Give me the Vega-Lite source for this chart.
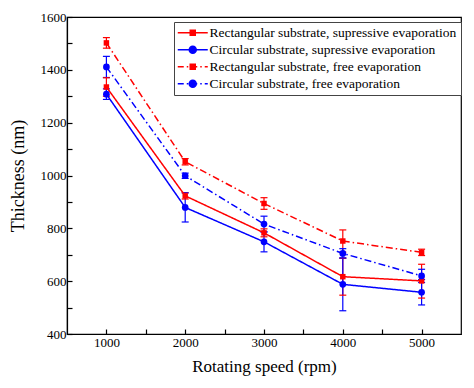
{
  "$schema": "https://vega.github.io/schema/vega-lite/v6.json",
  "width": 394,
  "height": 317,
  "autosize": {"type": "none"},
  "padding": {"left": 67, "top": 17, "right": 13, "bottom": 54},
  "background": "white",
  "config": {
    "font": "Times New Roman",
    "view": {"stroke": "black", "strokeWidth": 1.2},
    "axis": {
      "domainColor": "black", "domainWidth": 1.2, "tickColor": "black", "tickWidth": 1.2,
      "labelColor": "black", "titleColor": "black", "grid": false,
      "labelFont": "Times New Roman", "titleFont": "Times New Roman",
      "labelFontSize": 13, "titleFontSize": 17, "titleFontWeight": "normal", "tickSize": -5
    },
    "legend": {"labelFont": "Times New Roman"}
  },
  "data": {"values": [
    {"series": "Rectangular substrate, supressive evaporation", "speed": 1000, "thickness": 1335, "lo": 1300, "hi": 1370},
    {"series": "Rectangular substrate, supressive evaporation", "speed": 2000, "thickness": 923, "lo": 911, "hi": 935},
    {"series": "Rectangular substrate, supressive evaporation", "speed": 3000, "thickness": 783, "lo": 768, "hi": 798},
    {"series": "Rectangular substrate, supressive evaporation", "speed": 4000, "thickness": 617, "lo": 547, "hi": 687},
    {"series": "Rectangular substrate, supressive evaporation", "speed": 5000, "thickness": 601, "lo": 536, "hi": 664},
    {"series": "Circular substrate, supressive evaporation", "speed": 1000, "thickness": 1308, "lo": 1288, "hi": 1328},
    {"series": "Circular substrate, supressive evaporation", "speed": 2000, "thickness": 879, "lo": 824, "hi": 934},
    {"series": "Circular substrate, supressive evaporation", "speed": 3000, "thickness": 749, "lo": 711, "hi": 787},
    {"series": "Circular substrate, supressive evaporation", "speed": 4000, "thickness": 588, "lo": 488, "hi": 688},
    {"series": "Circular substrate, supressive evaporation", "speed": 5000, "thickness": 558, "lo": 510, "hi": 606},
    {"series": "Rectangular substrate, free evaporation", "speed": 1000, "thickness": 1502, "lo": 1482, "hi": 1522},
    {"series": "Rectangular substrate, free evaporation", "speed": 2000, "thickness": 1052, "lo": 1040, "hi": 1064},
    {"series": "Rectangular substrate, free evaporation", "speed": 3000, "thickness": 894, "lo": 872, "hi": 916},
    {"series": "Rectangular substrate, free evaporation", "speed": 4000, "thickness": 752, "lo": 710, "hi": 794},
    {"series": "Rectangular substrate, free evaporation", "speed": 5000, "thickness": 709, "lo": 697, "hi": 721},
    {"series": "Circular substrate, free evaporation", "speed": 1000, "thickness": 1411, "lo": 1371, "hi": 1451},
    {"series": "Circular substrate, free evaporation", "speed": 2000, "thickness": 999, "lo": 989, "hi": 1009},
    {"series": "Circular substrate, free evaporation", "speed": 3000, "thickness": 816, "lo": 786, "hi": 846},
    {"series": "Circular substrate, free evaporation", "speed": 4000, "thickness": 705, "lo": 687, "hi": 723},
    {"series": "Circular substrate, free evaporation", "speed": 5000, "thickness": 620, "lo": 595, "hi": 645}
  ]},
  "encoding": {
    "x": {
      "field": "speed", "type": "quantitative",
      "scale": {"domain": [500, 5500], "nice": false, "zero": false},
      "axis": {
        "values": [1000, 1500, 2000, 2500, 3000, 3500, 4000, 4500, 5000],
        "labelExpr": "datum.value % 1000 == 0 ? '' + datum.value : ''",
        "title": "Rotating speed (rpm)", "labelPadding": 7, "titlePadding": 9
      }
    },
    "y": {
      "field": "thickness", "type": "quantitative",
      "scale": {"domain": [400, 1600], "nice": false, "zero": false},
      "axis": {
        "values": [400, 500, 600, 700, 800, 900, 1000, 1100, 1200, 1300, 1400, 1500, 1600],
        "labelExpr": "datum.value % 200 == 0 ? '' + datum.value : ''",
        "title": "Thickness (nm)", "labelPadding": 6, "titlePadding": 13, "titleFontSize": 18
      }
    }
  },
  "layer": [
    {
      "mark": {"type": "rule", "strokeWidth": 1.2},
      "encoding": {
        "y": {"field": "lo", "type": "quantitative"},
        "y2": {"field": "hi"},
        "stroke": {"field": "series", "type": "nominal",
          "scale": {"range": ["#0000ff", "#0000ff", "#ff0000", "#ff0000"]},
          "legend": null}
      }
    },
    {
      "mark": {"type": "tick", "orient": "horizontal", "size": 7, "thickness": 1.2, "opacity": 1},
      "encoding": {
        "y": {"field": "lo", "type": "quantitative"},
        "fill": {"field": "series", "type": "nominal",
          "scale": {"range": ["#0000ff", "#0000ff", "#ff0000", "#ff0000"]},
          "legend": null}
      }
    },
    {
      "mark": {"type": "tick", "orient": "horizontal", "size": 7, "thickness": 1.2, "opacity": 1},
      "encoding": {
        "y": {"field": "hi", "type": "quantitative"},
        "fill": {"field": "series", "type": "nominal", "legend": null}
      }
    },
    {
      "mark": {"type": "line", "strokeWidth": 1.5},
      "encoding": {
        "stroke": {"field": "series", "type": "nominal", "legend": null},
        "strokeDash": {"field": "series", "type": "nominal",
          "scale": {"range": [[7, 3, 1.5, 3], [1, 0], [7, 3, 1.5, 3], [1, 0]]},
          "legend": null}
      }
    },
    {
      "transform": [{"filter": "indexof(datum.series, 'Rectangular') == 0"}],
      "mark": {"type": "point", "shape": "square", "filled": true, "size": 30, "opacity": 1},
      "encoding": {
        "fill": {"field": "series", "type": "nominal", "legend": null}
      }
    },
    {
      "transform": [{"filter": "indexof(datum.series, 'Circular') == 0"}],
      "mark": {"type": "point", "shape": "circle", "filled": true, "size": 45, "opacity": 1},
      "encoding": {
        "fill": {"field": "series", "type": "nominal", "legend": null}
      }
    },
    {
      "mark": {"type": "point", "filled": true, "size": 100, "opacity": 0},
      "encoding": {
        "color": {"field": "series", "type": "nominal",
          "scale": {"domain": ["Rectangular substrate, supressive evaporation", "Circular substrate, supressive evaporation", "Rectangular substrate, free evaporation", "Circular substrate, free evaporation"],
                    "range": ["#ff0000", "#0000ff", "#ff0000", "#0000ff"]},
          "legend": {
            "title": null, "orient": "none", "legendX": 107, "legendY": 5,
            "strokeColor": "#444", "padding": 4, "fillColor": "white",
            "labelFont": "Times New Roman", "labelFontSize": 13.5, "labelColor": "black", "labelLimit": 0,
            "symbolOffset": 8, "labelOffset": 10, "rowPadding": 2, "symbolSize": 100,
            "symbolStrokeWidth": 1.5, "symbolOpacity": 1,
            "encode": {"symbols": {"update": {"stroke": {"scale": "color", "field": "value"}, "strokeWidth": {"value": 1.5}, "opacity": {"value": 1}}}}
          }},
        "shape": {"field": "series", "type": "nominal",
          "scale": {"domain": ["Rectangular substrate, supressive evaporation", "Circular substrate, supressive evaporation", "Rectangular substrate, free evaporation", "Circular substrate, free evaporation"],
                    "range": [
                      "M-3,0H3M-0.5,-0.5H0.5V0.5H-0.5Z",
                      "M-3,0H3M-0.7,0A0.7,0.7 0 1 1 0.7,0A0.7,0.7 0 1 1 -0.7,0Z",
                      "M-3,0H-1.8M-1.2,0H-0.9M-0.3,0H0.9M1.5,0H1.8M2.4,0H3M-0.5,-0.5H0.5V0.5H-0.5Z",
                      "M-3,0H-1.8M-1.2,0H-0.9M-0.3,0H0.9M1.5,0H1.8M2.4,0H3M-0.7,0A0.7,0.7 0 1 1 0.7,0A0.7,0.7 0 1 1 -0.7,0Z"
                    ]},
          "legend": {"title": null, "orient": "none", "legendX": 107, "legendY": 5}}
      }
    }
  ]
}
